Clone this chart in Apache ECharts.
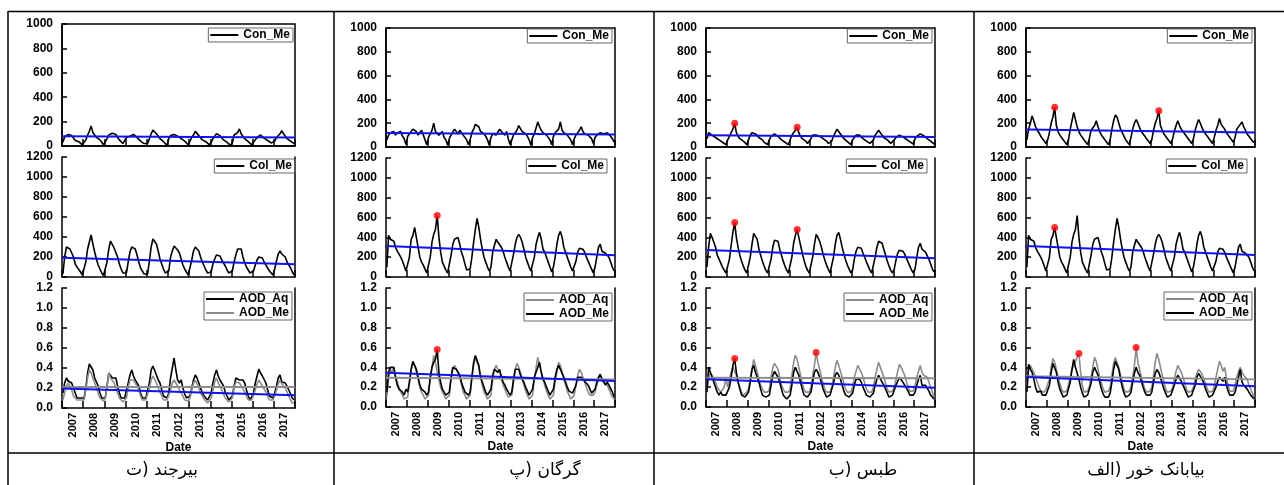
<!DOCTYPE html>
<html>
<head>
<meta charset="utf-8">
<script src="https://cdn.jsdelivr.net/npm/echarts@6/dist/echarts.min.js"></script>
<style>
  html, body { margin: 0; padding: 0; background: #fff; }
  #main { width: 1284px; height: 485px; }
</style>
</head>
<body>
<div id="main"></div>
<script>
// سال‌ها (برچسب محور افقی)
const years = ['2007', '2008', '2009', '2010', '2011', '2012', '2013', '2014', '2015', '2016', '2017'];

// بیرجند
const birjandCon = [
  30, 75, 90, 95, 105, 85, 70, 45, 40, 35, 25, 10,
  15, 50, 90, 120, 165, 110, 90, 70, 60, 50, 30, 10,
  20, 60, 90, 100, 105, 100, 95, 70, 50, 40, 20, 10,
  70, 75, 80, 85, 95, 90, 70, 60, 40, 30, 20, 10,
  20, 60, 100, 130, 115, 100, 80, 60, 45, 35, 20, 5,
  60, 85, 100, 95, 90, 80, 70, 60, 50, 40, 30, 10,
  25, 70, 90, 120, 105, 85, 70, 50, 40, 35, 20, 10,
  30, 60, 80, 100, 105, 85, 70, 50, 40, 30, 20, 5,
  25, 90, 85, 110, 140, 100, 80, 60, 45, 35, 20, 10,
  30, 50, 70, 85, 90, 75, 65, 55, 45, 35, 25, 10,
  40, 70, 85, 100, 125, 100, 80, 60, 50, 40, 30, 20
];
const birjandCol = [
  30, 200, 300, 290, 280, 270, 200, 130, 100, 80, 50, 20,
  20, 150, 280, 350, 420, 330, 250, 180, 120, 80, 40, 15,
  30, 150, 280, 360, 370, 290, 280, 200, 130, 80, 40, 20,
  40, 150, 250, 300, 310, 280, 220, 150, 90, 60, 30, 15,
  30, 160, 300, 380, 370, 330, 260, 180, 130, 80, 40, 20,
  60, 200, 260, 310, 330, 270, 240, 180, 120, 80, 50, 20,
  30, 170, 260, 300, 320, 260, 200, 150, 110, 70, 40, 20,
  50, 130, 180, 220, 240, 210, 170, 150, 110, 70, 40, 20,
  60, 150, 220, 280, 270, 280, 200, 140, 100, 70, 40, 20,
  60, 120, 170, 200, 220, 190, 150, 120, 90, 60, 40, 20,
  80, 160, 230, 260, 230, 240, 200, 150, 120, 90, 50, 20
];
const birjandAq = [
  0.15, 0.25, 0.30, 0.27, 0.28, 0.25, 0.20, 0.15, 0.10, 0.08, 0.10, 0.12,
  0.10, 0.20, 0.35, 0.44, 0.46, 0.38, 0.30, 0.28, 0.22, 0.15, 0.10, 0.08,
  0.10, 0.22, 0.35, 0.37, 0.30, 0.32, 0.30, 0.22, 0.15, 0.10, 0.08, 0.10,
  0.12, 0.25, 0.33, 0.38, 0.32, 0.28, 0.28, 0.22, 0.15, 0.10, 0.08, 0.10,
  0.12, 0.25, 0.38, 0.42, 0.40, 0.33, 0.28, 0.25, 0.18, 0.12, 0.10, 0.10,
  0.15, 0.30, 0.40, 0.50, 0.38, 0.28, 0.25, 0.28, 0.20, 0.14, 0.10, 0.10,
  0.12, 0.20, 0.28, 0.33, 0.30, 0.25, 0.20, 0.15, 0.12, 0.10, 0.08, 0.10,
  0.15, 0.25, 0.33, 0.38, 0.32, 0.28, 0.30, 0.22, 0.16, 0.12, 0.08, 0.10,
  0.12, 0.22, 0.30, 0.31, 0.28, 0.30, 0.28, 0.25, 0.18, 0.12, 0.08, 0.10,
  0.15, 0.25, 0.32, 0.39, 0.35, 0.32, 0.34, 0.25, 0.18, 0.12, 0.10, 0.10,
  0.15, 0.22, 0.30, 0.33, 0.26, 0.28, 0.25, 0.25, 0.18, 0.14, 0.10, 0.08
];
const birjandMe = [
  0.08, 0.15, 0.22, 0.25, 0.22, 0.18, 0.12, 0.10, 0.08, 0.07, 0.08, 0.10,
  0.08, 0.18, 0.30, 0.38, 0.35, 0.30, 0.25, 0.20, 0.15, 0.10, 0.08, 0.07,
  0.10, 0.22, 0.35, 0.30, 0.28, 0.25, 0.20, 0.15, 0.10, 0.08, 0.06, 0.08,
  0.10, 0.20, 0.28, 0.30, 0.28, 0.25, 0.22, 0.18, 0.12, 0.08, 0.06, 0.08,
  0.10, 0.20, 0.28, 0.32, 0.30, 0.25, 0.20, 0.16, 0.12, 0.08, 0.06, 0.08,
  0.10, 0.18, 0.25, 0.28, 0.25, 0.22, 0.18, 0.15, 0.12, 0.08, 0.06, 0.07,
  0.10, 0.18, 0.25, 0.28, 0.24, 0.20, 0.15, 0.12, 0.09, 0.07, 0.05, 0.07,
  0.10, 0.18, 0.26, 0.30, 0.25, 0.22, 0.18, 0.14, 0.10, 0.08, 0.06, 0.08,
  0.10, 0.20, 0.26, 0.28, 0.25, 0.22, 0.20, 0.16, 0.12, 0.08, 0.06, 0.08,
  0.10, 0.18, 0.24, 0.28, 0.25, 0.22, 0.20, 0.16, 0.12, 0.08, 0.06, 0.08,
  0.12, 0.18, 0.24, 0.28, 0.24, 0.22, 0.20, 0.16, 0.12, 0.08, 0.05, 0.05
];

// گرگان
const gorganCon = [
  60, 100, 120, 110, 130, 100, 120, 110, 130, 90, 70, 20,
  90, 110, 120, 150, 140, 130, 100, 120, 140, 100, 60, 20,
  80, 110, 140, 200, 130, 120, 100, 110, 130, 80, 60, 15,
  70, 100, 110, 150, 130, 110, 140, 120, 100, 90, 60, 20,
  60, 120, 150, 190, 180, 170, 130, 140, 110, 90, 60, 15,
  80, 110, 120, 100, 110, 150, 130, 120, 100, 130, 70, 20,
  60, 100, 120, 140, 180, 170, 130, 120, 110, 90, 60, 15,
  80, 110, 160, 210, 170, 140, 120, 130, 100, 90, 60, 20,
  90, 120, 130, 150, 210, 140, 120, 110, 100, 80, 60, 20,
  70, 100, 110, 140, 170, 130, 110, 120, 100, 90, 70, 30,
  80, 100, 110, 120, 130, 110, 100, 120, 110, 90, 70, 40
];
const gorganCol = [
  100, 420, 380, 400, 360, 300, 260, 240, 200, 160, 110, 60,
  50, 200, 380, 420, 500, 400, 300, 200, 150, 120, 80, 40,
  60, 200, 350, 430, 480, 620, 400, 250, 150, 110, 70, 40,
  60, 220, 330, 380, 380, 400, 330, 250, 200, 130, 70, 50,
  80, 200, 350, 480, 590, 500, 380, 280, 200, 150, 100, 60,
  100, 250, 320, 380, 350, 330, 300, 260, 200, 150, 100, 60,
  60, 230, 330, 400, 430, 400, 350, 280, 200, 150, 100, 60,
  80, 200, 330, 400, 450, 380, 280, 250, 200, 150, 100, 50,
  100, 200, 330, 420, 460, 400, 300, 250, 200, 150, 100, 60,
  80, 160, 250, 290, 310, 280, 250, 200, 160, 120, 80, 40,
  100, 200, 300, 330, 260, 280, 240, 250, 200, 150, 100, 60
];
const gorganAq = [
  0.10, 0.30, 0.38, 0.35, 0.40, 0.30, 0.25, 0.20, 0.15, 0.12, 0.08, 0.10,
  0.10, 0.25, 0.38, 0.45, 0.42, 0.35, 0.28, 0.20, 0.15, 0.12, 0.08, 0.08,
  0.12, 0.28, 0.40, 0.52, 0.45, 0.35, 0.28, 0.20, 0.15, 0.12, 0.08, 0.10,
  0.12, 0.28, 0.38, 0.42, 0.40, 0.35, 0.30, 0.22, 0.15, 0.12, 0.08, 0.08,
  0.12, 0.30, 0.42, 0.50, 0.48, 0.40, 0.30, 0.22, 0.15, 0.12, 0.08, 0.10,
  0.12, 0.28, 0.38, 0.42, 0.38, 0.35, 0.30, 0.22, 0.18, 0.14, 0.10, 0.10,
  0.12, 0.25, 0.38, 0.44, 0.40, 0.35, 0.28, 0.22, 0.16, 0.12, 0.08, 0.08,
  0.12, 0.28, 0.40, 0.50, 0.42, 0.35, 0.28, 0.22, 0.16, 0.12, 0.08, 0.08,
  0.12, 0.25, 0.35, 0.45, 0.42, 0.35, 0.28, 0.22, 0.16, 0.12, 0.08, 0.10,
  0.12, 0.22, 0.32, 0.38, 0.35, 0.30, 0.25, 0.20, 0.15, 0.12, 0.10, 0.12,
  0.15, 0.22, 0.28, 0.32, 0.30, 0.25, 0.24, 0.22, 0.18, 0.14, 0.10, 0.08
];
const gorganMe = [
  0.15, 0.35, 0.40, 0.38, 0.40, 0.30, 0.22, 0.18, 0.20, 0.15, 0.12, 0.18,
  0.15, 0.25, 0.38, 0.46, 0.44, 0.38, 0.30, 0.22, 0.18, 0.20, 0.15, 0.12,
  0.15, 0.30, 0.40, 0.45, 0.48, 0.58, 0.35, 0.25, 0.18, 0.15, 0.12, 0.12,
  0.15, 0.30, 0.40, 0.42, 0.38, 0.40, 0.32, 0.25, 0.20, 0.15, 0.15, 0.12,
  0.15, 0.30, 0.45, 0.52, 0.50, 0.42, 0.30, 0.25, 0.20, 0.15, 0.12, 0.12,
  0.18, 0.32, 0.38, 0.40, 0.35, 0.38, 0.30, 0.25, 0.22, 0.18, 0.15, 0.12,
  0.15, 0.28, 0.38, 0.40, 0.38, 0.32, 0.28, 0.25, 0.20, 0.16, 0.12, 0.12,
  0.18, 0.30, 0.35, 0.40, 0.45, 0.35, 0.28, 0.25, 0.20, 0.16, 0.12, 0.12,
  0.18, 0.30, 0.38, 0.42, 0.40, 0.34, 0.30, 0.25, 0.20, 0.16, 0.14, 0.14,
  0.15, 0.22, 0.30, 0.32, 0.30, 0.28, 0.26, 0.28, 0.22, 0.18, 0.14, 0.14,
  0.18, 0.25, 0.30, 0.33, 0.28, 0.25, 0.22, 0.25, 0.22, 0.20, 0.15, 0.10
];

// طبس
const tabasCon = [
  70, 120, 110, 100, 90, 80, 70, 60, 50, 40, 30, 20,
  60, 90, 120, 150, 200, 120, 90, 70, 60, 50, 40, 20,
  60, 100, 120, 130, 110, 100, 80, 70, 60, 40, 30, 20,
  60, 90, 100, 110, 100, 90, 80, 60, 50, 40, 30, 20,
  60, 100, 120, 140, 165, 120, 90, 70, 60, 50, 30, 20,
  70, 100, 110, 100, 110, 90, 80, 70, 60, 50, 30, 20,
  50, 90, 120, 150, 130, 110, 90, 70, 55, 45, 30, 20,
  60, 80, 100, 110, 100, 90, 70, 60, 50, 40, 30, 20,
  60, 100, 110, 140, 120, 100, 80, 70, 60, 45, 30, 20,
  60, 80, 90, 100, 95, 85, 75, 65, 55, 45, 35, 25,
  70, 90, 100, 110, 105, 95, 80, 70, 60, 50, 40, 25
];
const tabasCol = [
  100, 300, 440, 400, 380, 300, 220, 180, 140, 100, 70, 40,
  50, 180, 320, 450, 550, 400, 300, 220, 160, 110, 70, 40,
  60, 200, 330, 440, 420, 380, 280, 220, 160, 110, 70, 40,
  60, 180, 300, 370, 390, 360, 280, 220, 160, 110, 70, 40,
  60, 200, 340, 420, 480, 400, 320, 240, 170, 110, 70, 40,
  60, 200, 330, 430, 400, 360, 300, 230, 170, 120, 80, 40,
  60, 200, 330, 420, 450, 380, 300, 230, 170, 120, 80, 40,
  70, 180, 260, 300, 310, 290, 240, 200, 150, 110, 70, 40,
  60, 200, 300, 360, 350, 340, 280, 220, 160, 110, 70, 40,
  80, 170, 240, 270, 280, 260, 230, 190, 150, 110, 70, 40,
  80, 200, 300, 340, 280, 300, 250, 230, 180, 130, 80, 50
];
const tabasAq = [
  0.15, 0.30, 0.35, 0.32, 0.30, 0.25, 0.20, 0.18, 0.15, 0.15, 0.20, 0.30,
  0.20, 0.28, 0.35, 0.40, 0.38, 0.32, 0.25, 0.20, 0.15, 0.12, 0.12, 0.15,
  0.18, 0.28, 0.38, 0.48, 0.42, 0.35, 0.28, 0.22, 0.18, 0.15, 0.14, 0.15,
  0.18, 0.30, 0.40, 0.44, 0.42, 0.38, 0.30, 0.22, 0.18, 0.15, 0.14, 0.15,
  0.18, 0.32, 0.45, 0.52, 0.48, 0.40, 0.32, 0.24, 0.18, 0.15, 0.14, 0.15,
  0.20, 0.32, 0.42, 0.55, 0.45, 0.38, 0.30, 0.24, 0.18, 0.15, 0.14, 0.15,
  0.20, 0.30, 0.40, 0.47, 0.42, 0.36, 0.30, 0.24, 0.18, 0.15, 0.14, 0.15,
  0.20, 0.30, 0.36, 0.42, 0.40, 0.35, 0.30, 0.24, 0.18, 0.15, 0.14, 0.15,
  0.20, 0.30, 0.38, 0.45, 0.40, 0.35, 0.30, 0.24, 0.18, 0.15, 0.14, 0.16,
  0.20, 0.28, 0.36, 0.43, 0.40, 0.36, 0.32, 0.26, 0.20, 0.16, 0.14, 0.16,
  0.22, 0.30, 0.36, 0.42, 0.35, 0.32, 0.33, 0.30, 0.25, 0.20, 0.15, 0.10
];
const tabasMe = [
  0.15, 0.40, 0.38, 0.30, 0.28, 0.20, 0.15, 0.12, 0.15, 0.12, 0.10, 0.12,
  0.12, 0.20, 0.30, 0.42, 0.49, 0.35, 0.25, 0.18, 0.12, 0.10, 0.10, 0.12,
  0.15, 0.25, 0.38, 0.42, 0.35, 0.30, 0.25, 0.18, 0.12, 0.10, 0.10, 0.12,
  0.12, 0.22, 0.32, 0.36, 0.35, 0.30, 0.25, 0.18, 0.12, 0.10, 0.08, 0.10,
  0.12, 0.22, 0.35, 0.40, 0.38, 0.32, 0.25, 0.18, 0.12, 0.10, 0.10, 0.12,
  0.15, 0.25, 0.35, 0.38, 0.35, 0.30, 0.25, 0.18, 0.14, 0.10, 0.10, 0.12,
  0.14, 0.24, 0.32, 0.35, 0.32, 0.28, 0.22, 0.16, 0.12, 0.10, 0.10, 0.12,
  0.14, 0.22, 0.28, 0.30, 0.28, 0.25, 0.20, 0.16, 0.12, 0.10, 0.10, 0.12,
  0.14, 0.22, 0.28, 0.32, 0.30, 0.25, 0.22, 0.18, 0.14, 0.10, 0.10, 0.12,
  0.14, 0.22, 0.26, 0.30, 0.28, 0.25, 0.22, 0.20, 0.16, 0.12, 0.10, 0.12,
  0.15, 0.22, 0.28, 0.32, 0.22, 0.20, 0.22, 0.20, 0.16, 0.12, 0.10, 0.08
];

// خور بیابانک
const khurCon = [
  60, 150, 200, 260, 220, 170, 140, 120, 90, 70, 50, 30,
  60, 120, 200, 250, 335, 180, 130, 100, 80, 60, 40, 20,
  60, 150, 220, 290, 230, 170, 130, 100, 80, 60, 40, 20,
  70, 140, 160, 180, 220, 170, 130, 100, 80, 60, 40, 20,
  60, 150, 220, 270, 250, 200, 150, 120, 90, 60, 40, 20,
  80, 150, 200, 230, 200, 160, 130, 110, 90, 70, 50, 30,
  60, 140, 200, 240, 305, 180, 140, 110, 90, 70, 50, 30,
  70, 130, 180, 220, 180, 150, 130, 110, 90, 70, 50, 30,
  70, 140, 190, 230, 200, 160, 130, 110, 90, 70, 50, 30,
  80, 140, 180, 240, 190, 200, 150, 120, 100, 80, 60, 40,
  80, 150, 160, 190, 210, 170, 140, 110, 90, 70, 50, 40
];
const khurCol = gorganCol; // در شکل اصلی همان منحنی گرگان تکرار شده است
const khurAq = [
  0.20, 0.38, 0.42, 0.40, 0.35, 0.30, 0.25, 0.20, 0.16, 0.14, 0.15, 0.18,
  0.18, 0.28, 0.40, 0.49, 0.45, 0.38, 0.30, 0.24, 0.18, 0.15, 0.14, 0.16,
  0.18, 0.30, 0.38, 0.42, 0.46, 0.50, 0.54, 0.35, 0.22, 0.15, 0.14, 0.16,
  0.20, 0.30, 0.40, 0.50, 0.46, 0.38, 0.30, 0.24, 0.18, 0.15, 0.14, 0.16,
  0.20, 0.32, 0.44, 0.50, 0.48, 0.40, 0.32, 0.25, 0.18, 0.15, 0.14, 0.16,
  0.20, 0.30, 0.42, 0.60, 0.45, 0.38, 0.30, 0.24, 0.18, 0.15, 0.14, 0.16,
  0.20, 0.32, 0.45, 0.54, 0.48, 0.40, 0.32, 0.25, 0.18, 0.15, 0.14, 0.16,
  0.20, 0.28, 0.36, 0.42, 0.40, 0.35, 0.30, 0.24, 0.18, 0.15, 0.14, 0.16,
  0.20, 0.28, 0.34, 0.38, 0.36, 0.33, 0.28, 0.24, 0.18, 0.15, 0.14, 0.16,
  0.20, 0.30, 0.38, 0.46, 0.42, 0.36, 0.40, 0.30, 0.22, 0.16, 0.14, 0.16,
  0.22, 0.30, 0.36, 0.40, 0.35, 0.32, 0.30, 0.28, 0.22, 0.18, 0.14, 0.10
];
const khurMe = [
  0.15, 0.43, 0.38, 0.35, 0.28, 0.20, 0.15, 0.14, 0.16, 0.12, 0.10, 0.12,
  0.12, 0.22, 0.35, 0.44, 0.42, 0.35, 0.25, 0.18, 0.14, 0.10, 0.10, 0.12,
  0.14, 0.25, 0.38, 0.48, 0.40, 0.38, 0.28, 0.20, 0.14, 0.10, 0.10, 0.12,
  0.14, 0.24, 0.35, 0.40, 0.38, 0.32, 0.25, 0.18, 0.13, 0.10, 0.08, 0.10,
  0.14, 0.25, 0.38, 0.46, 0.45, 0.38, 0.28, 0.20, 0.14, 0.10, 0.10, 0.12,
  0.15, 0.25, 0.34, 0.40, 0.35, 0.32, 0.26, 0.20, 0.15, 0.12, 0.10, 0.12,
  0.15, 0.25, 0.34, 0.38, 0.35, 0.30, 0.24, 0.18, 0.14, 0.10, 0.10, 0.12,
  0.14, 0.22, 0.28, 0.32, 0.30, 0.26, 0.22, 0.18, 0.14, 0.10, 0.10, 0.12,
  0.14, 0.22, 0.30, 0.34, 0.32, 0.28, 0.24, 0.18, 0.14, 0.10, 0.10, 0.12,
  0.14, 0.20, 0.26, 0.30, 0.28, 0.26, 0.30, 0.22, 0.16, 0.12, 0.10, 0.12,
  0.15, 0.22, 0.30, 0.38, 0.25, 0.22, 0.20, 0.18, 0.16, 0.12, 0.10, 0.08
];

// خطوط روند (ابتدا، انتها)
const birjandConTrend = [80, 70];
const gorganConTrend = [118, 105];
const tabasConTrend = [99, 84];
const khurConTrend = [147, 122];
const birjandColTrend = [193, 127];
const gorganColTrend = [312, 219];
const tabasColTrend = [272, 188];
const khurColTrend = [312, 222];
const birjandAodBlue = [0.195, 0.127];
const gorganAodBlue = [0.346, 0.262];
const tabasAodBlue = [0.279, 0.195];
const khurAodBlue = [0.303, 0.21];
const birjandAodGrey = [0.21, 0.21];
const gorganAodGrey = [0.295, 0.279];
const tabasAodGrey = [0.295, 0.29];
const khurAodGrey = [0.31, 0.279];

// نقاط قرمز (بیشینه‌ها)
const gorganColDots = [[2009.46, 620]];
const gorganAodDots = [[2009.46, 0.58]];
const tabasConDots = [[2008.38, 200], [2011.38, 165]];
const tabasColDots = [[2008.38, 550], [2011.38, 480]];
const tabasAodDots = [[2008.38, 0.49], [2012.29, 0.55]];
const khurConDots = [[2008.38, 335], [2013.38, 305]];
const khurColDots = [[2008.38, 500]];
const khurAodDots = [[2009.54, 0.54], [2012.29, 0.60]];

// عنوان ستون‌ها، قطعه‌ها به ترتیب دیداری از چپ به راست
const captions = [
  ['ت', ')', 'بیرجند'],
  ['پ', ')', 'گرگان'],
  ['ب', ')', 'طبس'],
  ['الف', ')', 'خور', 'بیابانک']
];

// زمان هر نقطه ماهانه
const months = [];
years.forEach(function (y) {
  for (let m = 0; m < 12; m++) months.push(+y + (m + 0.5) / 12);
});

const black = '#000', grey = '#8c8c8c', blue = '#1010f0', red = '#ff0000';
const W = 1284;
const font = 'Liberation Sans, Arial, sans-serif';
const bold12 = {fontFamily: font, fontWeight: 'bold', fontSize: 12, color: '#000'};

const stations = [
  {con: birjandCon, conT: birjandConTrend, conD: [], col: birjandCol, colT: birjandColTrend, colD: [],
   aq: birjandAq, me: birjandMe, aqC: black, meC: grey, aodB: birjandAodBlue, aodG: birjandAodGrey, aodD: []},
  {con: gorganCon, conT: gorganConTrend, conD: [], col: gorganCol, colT: gorganColTrend, colD: gorganColDots,
   aq: gorganAq, me: gorganMe, aqC: grey, meC: black, aodB: gorganAodBlue, aodG: gorganAodGrey, aodD: gorganAodDots},
  {con: tabasCon, conT: tabasConTrend, conD: tabasConDots, col: tabasCol, colT: tabasColTrend, colD: tabasColDots,
   aq: tabasAq, me: tabasMe, aqC: grey, meC: black, aodB: tabasAodBlue, aodG: tabasAodGrey, aodD: tabasAodDots},
  {con: khurCon, conT: khurConTrend, conD: khurConDots, col: khurCol, colT: khurColTrend, colD: khurColDots,
   aq: khurAq, me: khurMe, aqC: grey, meC: black, aodB: khurAodBlue, aodG: khurAodGrey, aodD: khurAodDots}
];

// جای نمودارها
const gridLeft = [62, 386, 706, 1026];
const gridWidth = [233, 229, 229, 229];
const rowTop = [[24, 28, 28, 28], [157, 158, 158, 158], [288, 288, 288, 288]];
const rowHeight = [[122, 119, 119, 119], [120, 119, 119, 119], [120, 119, 119, 119]];
const yMax = [1000, 1200, 1.2];
const yStep = [200, 200, 0.2];
const legendRight = [[293, 612, 932, 1252], [295, 607, 927, 1247], [292, 612, 932, 1252]];
const legendTop = [[28, 29, 29, 29], [159, 159, 159, 159], [292, 293, 293, 292]];
const captionX = [162, 545, 863, 1146];

function pairs(vals) {
  return vals.map(function (v, i) { return [months[i], v]; });
}

const grids = [], xAxes = [], yAxes = [], series = [], legends = [];
const axisLine = {show: true, lineStyle: {color: black, width: 1.5}};

stations.forEach(function (st, c) {
  for (let r = 0; r < 3; r++) {
    const g = grids.length;
    grids.push({
      left: gridLeft[c], top: rowTop[r][c], width: gridWidth[c], height: rowHeight[r][c],
      show: r === 0, borderColor: black, borderWidth: 1.5, backgroundColor: 'transparent'
    });
    xAxes.push({
      type: 'category', gridIndex: g, data: years, boundaryGap: true,
      axisLine: axisLine,
      axisTick: {show: true, inside: true, length: 7, interval: 0, lineStyle: {color: black, width: 1.5}},
      axisLabel: r === 2
        ? {show: true, interval: 0, rotate: 90, margin: 5, fontFamily: font, fontWeight: 'bold', fontSize: 11, color: '#000'}
        : {show: false},
      name: r === 2 ? 'Date' : '', nameLocation: 'middle', nameGap: 34, nameTextStyle: bold12,
      splitLine: {show: false}
    });
    xAxes.push({type: 'value', gridIndex: g, min: 2007, max: 2018, show: false});
    yAxes.push({
      type: 'value', gridIndex: g, min: 0, max: yMax[r], interval: yStep[r],
      axisLine: axisLine,
      axisTick: {show: true, inside: true, length: 5, lineStyle: {color: black, width: 1.5}},
      axisLabel: Object.assign({}, bold12, {
        margin: 9,
        formatter: r === 2 ? function (v) { return v.toFixed(1); } : function (v) { return String(v); }
      }),
      splitLine: {show: false}
    });
    yAxes.push({
      type: 'value', gridIndex: g, position: 'right', min: 0, max: yMax[r],
      axisLine: r === 0 ? {show: false} : axisLine,
      axisTick: {show: false}, axisLabel: {show: false}, splitLine: {show: false}
    });

    const xi = 2 * g + 1, yi = 2 * g;
    const lines = r === 0 ? [['Con_Me', st.con, black]]
      : r === 1 ? [['Col_Me', st.col, black]]
      : [['AOD_Aq', st.aq, st.aqC], ['AOD_Me', st.me, st.meC]];
    const names = [];
    lines.forEach(function (l) {
      const nm = l[0] + '#' + c;
      names.push(nm);
      series.push({
        name: nm, type: 'line', xAxisIndex: xi, yAxisIndex: yi, data: pairs(l[1]),
        symbol: 'none', showSymbol: false, silent: true,
        lineStyle: {color: l[2], width: 1.6}, itemStyle: {color: l[2]}
      });
    });
    if (r === 2) {
      series.push({
        type: 'line', xAxisIndex: xi, yAxisIndex: yi, symbol: 'none', silent: true,
        data: [[2007, st.aodG[0]], [2018, st.aodG[1]]],
        lineStyle: {color: grey, width: 1.8}
      });
    }
    const t = r === 0 ? st.conT : r === 1 ? st.colT : st.aodB;
    series.push({
      type: 'line', xAxisIndex: xi, yAxisIndex: yi, symbol: 'none', silent: true,
      data: [[2007, t[0]], [2018, t[1]]],
      lineStyle: {color: blue, width: 2}
    });
    const dots = r === 0 ? st.conD : r === 1 ? st.colD : st.aodD;
    if (dots.length) {
      series.push({
        type: 'scatter', xAxisIndex: xi, yAxisIndex: yi, data: dots, symbolSize: 7, silent: true,
        itemStyle: {color: red}, z: 5
      });
    }
    legends.push({
      data: names, orient: 'vertical', right: W - legendRight[r][c], top: legendTop[r][c],
      icon: 'rect', itemWidth: 28, itemHeight: 2, itemGap: 2, padding: [1, 3, 1, 2],
      borderColor: '#666', borderWidth: 1, borderRadius: 0,
      selectedMode: false, textStyle: bold12,
      formatter: function (n) { return n.split('#')[0]; }
    });
  }
});

// خطوط جدول و عنوان‌ها
const graphics = [];
const tableLine = {stroke: black, lineWidth: 1.5};
graphics.push({type: 'line', shape: {x1: 8, y1: 11.5, x2: W, y2: 11.5}, style: tableLine});
graphics.push({type: 'line', shape: {x1: 8, y1: 453, x2: W, y2: 453}, style: tableLine});
[8, 334, 654, 974].forEach(function (x) {
  graphics.push({type: 'line', shape: {x1: x, y1: 11, x2: x, y2: 485}, style: tableLine});
});

// هر قطعه عنوان جدا رسم می‌شود؛ پرانتز با LRM قفل می‌شود تا وارونه نشود
const LRM = '\u200E';
const capFont = '17px "DejaVu Sans", sans-serif';
const measure = document.createElement('canvas').getContext('2d');
measure.font = capFont;
const spaceW = measure.measureText(' ').width;
captions.forEach(function (parts, i) {
  const widths = parts.map(function (p) { return measure.measureText(p).width; });
  const gaps = parts.map(function (p, k) { return (k >= 1 && k < parts.length - 1) ? spaceW : 0; });
  const total = widths.reduce(function (a, b) { return a + b; }, 0) + gaps.reduce(function (a, b) { return a + b; }, 0);
  let x = captionX[i] - total / 2;
  parts.forEach(function (p, k) {
    graphics.push({
      type: 'text', x: x, y: 471,
      style: {text: p === ')' ? LRM + p + LRM : p, fill: '#000', font: capFont,
        textAlign: 'left', align: 'left', textVerticalAlign: 'middle', verticalAlign: 'middle'}
    });
    x += widths[k] + gaps[k];
  });
});

const chart = echarts.init(document.getElementById('main'));
chart.setOption({
  animation: false,
  backgroundColor: '#fff',
  grid: grids,
  xAxis: xAxes,
  yAxis: yAxes,
  legend: legends,
  series: series,
  graphic: graphics
});
</script>
</body>
</html>
